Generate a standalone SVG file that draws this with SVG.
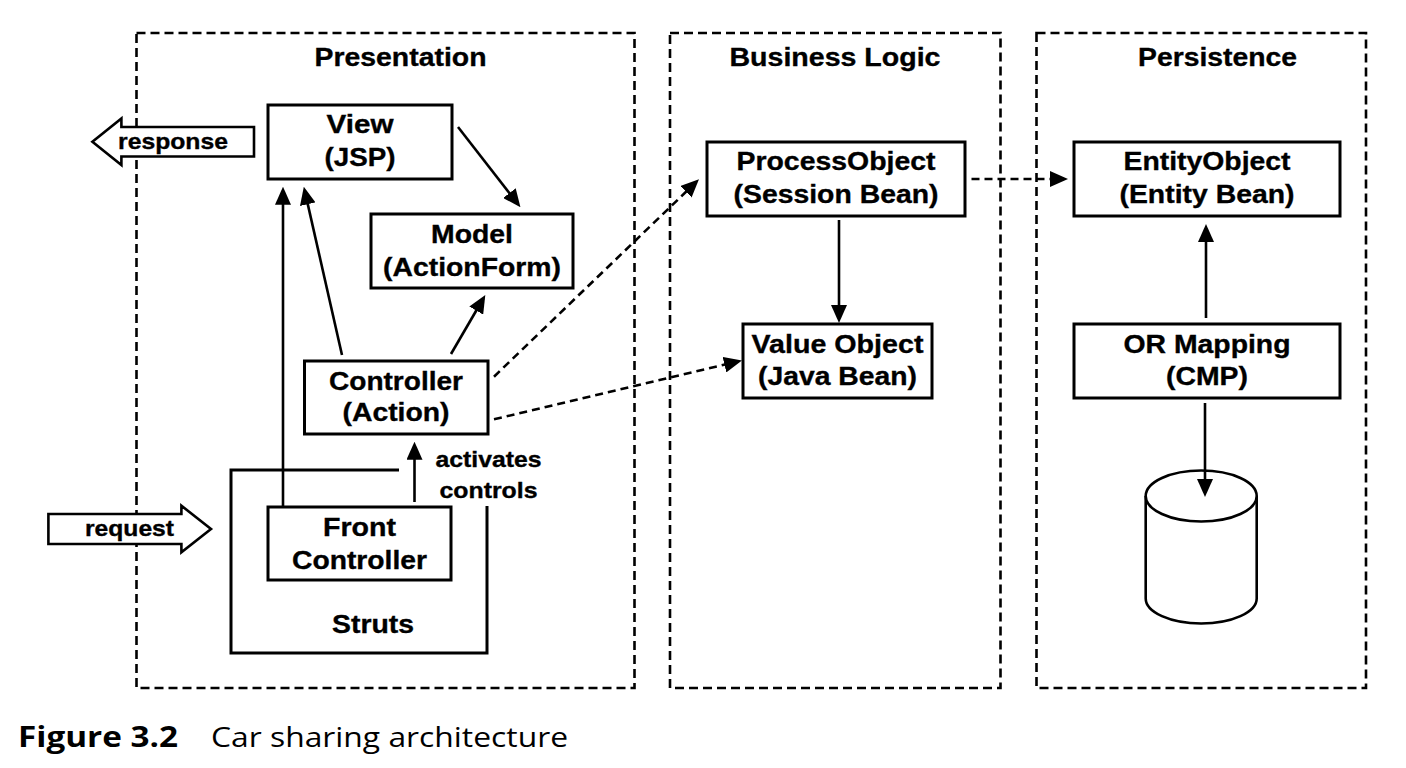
<svg xmlns="http://www.w3.org/2000/svg" width="1406" height="768" viewBox="0 0 1406 768">
<defs>
<style>
.zone{fill:none;stroke:#000;stroke-width:2.6;stroke-dasharray:9 5}
.box{fill:#fff;stroke:#000;stroke-width:3}
.shape{fill:#fff;stroke:#000;stroke-width:2.6}
.t{font-family:"Liberation Sans",Arial,Helvetica,sans-serif;font-weight:bold;font-size:26.5px;text-anchor:middle;fill:#000;stroke:#000;stroke-width:0.35}
.lbl{font-size:22px}
.edge{fill:none;stroke:#000;stroke-width:2.6;marker-end:url(#ah)}
.dash{stroke-dasharray:8 5}
.cap{font-family:"Open Sans","Noto Sans",sans-serif;font-size:28px;fill:#000}
</style>
<marker id="ah" markerUnits="userSpaceOnUse" markerWidth="18" markerHeight="16" refX="14" refY="8" orient="auto" viewBox="0 0 18 16">
<path d="M0,0 L18,8 L0,16 z" fill="#000"/>
</marker>
</defs>
<rect width="1406" height="768" fill="#fff"/>

<g id="zone-presentation">
<rect class="zone" x="136.5" y="33" width="498" height="655"/>
<text class="t" x="400.5" y="66" textLength="172" lengthAdjust="spacingAndGlyphs">Presentation</text>
</g>
<g id="zone-business-logic">
<rect class="zone" x="670" y="33" width="330.5" height="655"/>
<text class="t" x="835" y="66" textLength="211" lengthAdjust="spacingAndGlyphs">Business Logic</text>
</g>
<g id="zone-persistence">
<rect class="zone" x="1036.5" y="33" width="329.5" height="655"/>
<text class="t" x="1217.5" y="66" textLength="159" lengthAdjust="spacingAndGlyphs">Persistence</text>
</g>

<g id="response">
<polygon class="shape" points="92.4,141.7 121.4,118.5 121.4,127 254,127 254,156.5 121.4,156.5 121.4,165"/>
<text class="t lbl" x="173" y="149" textLength="110" lengthAdjust="spacingAndGlyphs">response</text>
</g>
<g id="request">
<polygon class="shape" points="48.4,514 181.4,514 181.4,505.7 211,529 181.4,552.3 181.4,544 48.4,544"/>
<text class="t lbl" x="129.5" y="536" textLength="89" lengthAdjust="spacingAndGlyphs">request</text>
</g>

<g id="struts">
<polyline fill="none" stroke="#000" stroke-width="3" points="399,470 231,470 231,653 487,653 487,506"/>
<text class="t" x="373" y="633" textLength="82" lengthAdjust="spacingAndGlyphs">Struts</text>
</g>

<g id="view">
<rect class="box" x="268" y="105" width="184" height="74"/>
<text class="t" x="360" y="133" textLength="67" lengthAdjust="spacingAndGlyphs">View</text>
<text class="t" x="360" y="165.5" textLength="71" lengthAdjust="spacingAndGlyphs">(JSP)</text>
</g>
<g id="model">
<rect class="box" x="371" y="214" width="202" height="74"/>
<text class="t" x="472" y="243" textLength="82" lengthAdjust="spacingAndGlyphs">Model</text>
<text class="t" x="472" y="275.5" textLength="178" lengthAdjust="spacingAndGlyphs">(ActionForm)</text>
</g>
<g id="controller">
<rect class="box" x="304.5" y="361" width="183.5" height="73"/>
<text class="t" x="396" y="390" textLength="134" lengthAdjust="spacingAndGlyphs">Controller</text>
<text class="t" x="396" y="420.5" textLength="107" lengthAdjust="spacingAndGlyphs">(Action)</text>
</g>
<g id="front-controller">
<rect class="box" x="268" y="507" width="183" height="73"/>
<text class="t" x="359.5" y="536" textLength="73" lengthAdjust="spacingAndGlyphs">Front</text>
<text class="t" x="359.5" y="568.5" textLength="135" lengthAdjust="spacingAndGlyphs">Controller</text>
</g>
<g id="process-object">
<rect class="box" x="707" y="142" width="258" height="74"/>
<text class="t" x="836" y="170" textLength="199" lengthAdjust="spacingAndGlyphs">ProcessObject</text>
<text class="t" x="836" y="202.5" textLength="205" lengthAdjust="spacingAndGlyphs">(Session Bean)</text>
</g>
<g id="value-object">
<rect class="box" x="743" y="324" width="189" height="74"/>
<text class="t" x="837.5" y="353" textLength="172" lengthAdjust="spacingAndGlyphs">Value Object</text>
<text class="t" x="837.5" y="384.5" textLength="159" lengthAdjust="spacingAndGlyphs">(Java Bean)</text>
</g>
<g id="entity-object">
<rect class="box" x="1074" y="142" width="266" height="74"/>
<text class="t" x="1207" y="170" textLength="167" lengthAdjust="spacingAndGlyphs">EntityObject</text>
<text class="t" x="1207" y="202.5" textLength="175" lengthAdjust="spacingAndGlyphs">(Entity Bean)</text>
</g>
<g id="or-mapping">
<rect class="box" x="1074" y="324" width="266" height="74"/>
<text class="t" x="1207" y="353" textLength="167" lengthAdjust="spacingAndGlyphs">OR Mapping</text>
<text class="t" x="1207" y="384.5" textLength="82" lengthAdjust="spacingAndGlyphs">(CMP)</text>
</g>
<g id="database">
<path class="shape" d="M1145.7,496 L1145.7,598.5 A55.5,25 0 0 0 1256.7,598.5 L1256.7,496"/>
<ellipse class="shape" cx="1201.2" cy="496" rx="55.5" ry="25.5"/>
</g>

<g id="connectors">
<line class="edge" x1="458" y1="127" x2="518" y2="204.1"/>
<line class="edge" x1="283" y1="506" x2="283" y2="190.7"/>
<line class="edge" x1="342" y1="355" x2="304.7" y2="190.6"/>
<line class="edge" x1="451" y1="354" x2="483.3" y2="298.5"/>
<line class="edge" x1="414.5" y1="502" x2="414.5" y2="445.7"/>
<line class="edge dash" x1="494" y1="376.7" x2="696.1" y2="182.1"/>
<line class="edge dash" x1="494" y1="419.3" x2="738.1" y2="361.4"/>
<line class="edge dash" x1="971.5" y1="179" x2="1064" y2="179"/>
<line class="edge" x1="839" y1="220" x2="839" y2="319"/>
<line class="edge" x1="1206" y1="318" x2="1206" y2="228"/>
<line class="edge" x1="1205" y1="403" x2="1205" y2="493"/>
<text class="t lbl" x="488.5" y="467" textLength="106" lengthAdjust="spacingAndGlyphs">activates</text>
<text class="t lbl" x="488.5" y="497.5" textLength="98" lengthAdjust="spacingAndGlyphs">controls</text>
</g>

<g id="caption">
<text class="cap" x="18" y="747" font-weight="bold" textLength="160" lengthAdjust="spacingAndGlyphs">Figure 3.2</text>
<text class="cap" x="211" y="747" textLength="357" lengthAdjust="spacingAndGlyphs">Car sharing architecture</text>
</g>
</svg>
